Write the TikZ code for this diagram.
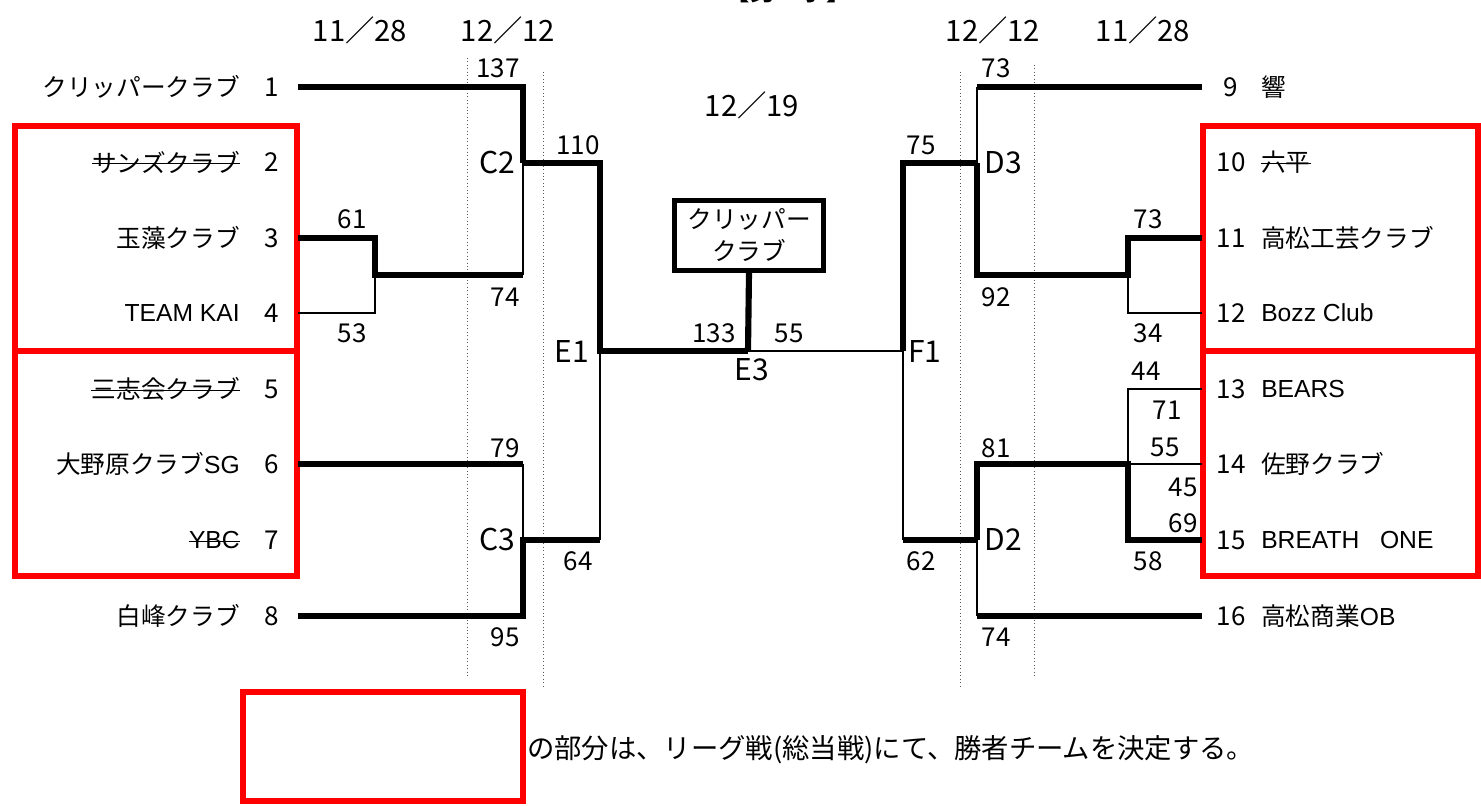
\documentclass[tikz,border=0pt]{standalone}
\usepackage{fontspec}
\setmainfont{Noto Sans CJK JP}
\newfontfamily\lat{Liberation Sans}
\begin{document}
\begin{tikzpicture}[x=0.75pt,y=-0.75pt,
  thk/.style={line width=4.6pt},
  thn/.style={line width=1.4pt},
  dotln/.style={line width=0.6pt,dotted,gray!70!black},
  redbox/.style={draw=red,line width=4.6pt},
  txt/.style={inner sep=0pt,font=\fontsize{18.5pt}{22pt}\selectfont},
  hdr/.style={inner sep=0pt,font=\fontsize{22pt}{24pt}\selectfont},
  num/.style={inner sep=0pt,font=\fontsize{19.5pt}{22pt}\selectfont},
  rnd/.style={inner sep=0pt,font=\fontsize{22.5pt}{24pt}\selectfont},
  strike/.style={line width=0.9pt}]
\useasboundingbox (0,0) rectangle (1481,806);
% title (cut off at top)
\node[txt,font=\fontsize{19pt}{22pt}\selectfont\bfseries] (title) at (788,-9) {【男　子】};
% headers
\node[hdr] (h1) at (360,30) {11／28};
\node[hdr] (h2) at (508,30) {12／12};
\node[hdr] (h3) at (993,30) {12／12};
\node[hdr] (h4) at (1143,30) {11／28};
\node[hdr] (h5) at (752,105) {12／19};
% dotted guide lines
\draw[dotln] (467,58) -- (467,678);
\draw[dotln] (543,72) -- (543,686);
\draw[dotln] (960,72) -- (960,686);
\draw[dotln] (1034,65) -- (1034,678);
% red boxes
\draw[redbox] (15,126) rectangle (297,351);
\draw[redbox] (15,351) rectangle (297,576);
\draw[redbox] (1203,126) rectangle (1478,351);
\draw[redbox] (1203,351) rectangle (1478,576);
\draw[redbox] (243,692) rectangle (523,801);
\node[inner sep=0pt,anchor=west,font=\fontsize{20.5pt}{24pt}\selectfont] (legend) at (527,750) {の部分は、リーグ戦(総当戦)にて、勝者チームを決定する。};
% left teams
\node[txt,anchor=east] (n1) at (240,87) {クリッパークラブ};
\node[txt,anchor=east] (n2) at (240,162) {サンズクラブ};
\node[txt,anchor=east] (n3) at (240,238) {玉藻クラブ};
\node[txt,anchor=east] (n4) at (240,313) {\lat TEAM KAI};
\node[txt,anchor=east] (n5) at (240,389) {三志会クラブ};
\node[txt,anchor=east] (n6) at (240,464) {大野原クラブ{\lat SG}};
\node[txt,anchor=east] (n7) at (240,540) {\lat YBC};
\node[txt,anchor=east] (n8) at (240,616) {白峰クラブ};
\foreach \i/\y in {1/87,2/162,3/238,4/313,5/389,6/464,7/540,8/616}
  \node[num] (k\i) at (272,\y) {\i};
\draw[strike] ([yshift=-1pt]n2.west) -- ([yshift=-1pt]n2.east);
\draw[strike] ([yshift=-1pt]n5.west) -- ([yshift=-1pt]n5.east);
\draw[strike] ([yshift=-1pt]n7.west) -- ([yshift=-1pt]n7.east);
% right teams
\foreach \i/\y in {9/87,10/162,11/238,12/313,13/389,14/464,15/540,16/616}
  \node[num] (k\i) at (1231,\y) {\i};
\node[txt,anchor=west] (n9) at (1261,87) {響};
\node[txt,anchor=west] (n10) at (1261,162) {六平};
\node[txt,anchor=west] (n11) at (1261,238) {高松工芸クラブ};
\node[txt,anchor=west] (n12) at (1261,313) {\lat Bozz Club};
\node[txt,anchor=west] (n13) at (1261,389) {\lat BEARS};
\node[txt,anchor=west] (n14) at (1261,464) {佐野クラブ};
\node[txt,anchor=west] (n15) at (1261,540) {\lat BREATH\ \ \ ONE};
\node[txt,anchor=west] (n16) at (1261,616) {高松商業{\lat OB}};
\draw[strike] ([yshift=-1pt]n10.west) -- ([yshift=-1pt]n10.east);
% coordinates
\coordinate (L1) at (298,87);  \coordinate (L3) at (298,238);
\coordinate (L4) at (298,313); \coordinate (L6) at (298,464);
\coordinate (L8) at (298,616);
\coordinate (R9) at (1202,87);   \coordinate (R11) at (1202,238);
\coordinate (R12) at (1202,313); \coordinate (R13) at (1202,389);
\coordinate (R14) at (1202,464); \coordinate (R15) at (1202,540);
\coordinate (R16) at (1202,616);
\coordinate (a34) at (375,275);
\coordinate (C2) at (523,163);  \coordinate (c2low) at (523,275);
\coordinate (C3) at (523,540);  \coordinate (c3up) at (523,464);
\coordinate (E1) at (600,351);  \coordinate (e1low) at (600,540);
\coordinate (E3) at (748,351);
\coordinate (F1) at (903,351);  \coordinate (f1low) at (903,540);
\coordinate (D3) at (977,163);  \coordinate (d3up) at (977,87);
\coordinate (D2) at (977,540);  \coordinate (d2low) at (977,616);
\coordinate (b1112) at (1128,275);
\coordinate (b14) at (1128,464);
% champion box
\node[draw,line width=3.8pt,minimum width=112pt,minimum height=52pt,inner sep=0pt,
  align=center,font=\fontsize{18.5pt}{24pt}\selectfont] (champ) at (749,235.5) {クリッパー\\クラブ};
% left bracket
\draw[thk] (L1) -| (C2);
\draw[thk] (C2) -| (E1) -- (E3);
\draw[thk] (E3) -- (champ.south);
\draw[thk] (L3) -| (a34) -- (c2low);
\draw[thn] (c2low) -- (C2);
\draw[thn] (L4) -| (a34);
\draw[thk] (L6) -- (c3up);
\draw[thn] (c3up) -- (C3);
\draw[thk] (L8) -| (C3) -- (e1low);
\draw[thn] (e1low) -- (E1);
% final
\draw[thn] (E3) -- (F1);
% right bracket
\draw[thk] (F1) |- (D3);
\draw[thn] (F1) -- (f1low);
\draw[thk] (f1low) -- (D2);
\draw[thk] (R9) -- (d3up);
\draw[thn] (d3up) -- (D3);
\draw[thk] (D3) |- (b1112) |- (R11);
\draw[thn] (b1112) |- (R12);
\draw[thk] (D2) |- (b14) |- (R15);
\draw[thn] (b14) -- (R14);
\draw[thn] (b14) |- (R13);
\draw[thn] (D2) -- (d2low);
\draw[thk] (d2low) -- (R16);
% round labels
\node[rnd] (lC2) at (497,163) {C2};
\node[rnd] (lC3) at (497,540) {C3};
\node[rnd] (lE1) at (572,352) {E1};
\node[rnd] (lE3) at (752,370) {E3};
\node[rnd] (lF1) at (925,352) {F1};
\node[rnd] (lD3) at (1003,163) {D3};
\node[rnd] (lD2) at (1003,540) {D2};
% scores
\foreach \nm/\x/\y/\s in {s1/498/68/137, s2/578/145/110, s3/352/219/61, s4/505/297/74,
  s5/352/333/53, s6/505/448/79, s7/578/561/64, s8/505/637/95, s9/714/333/133,
  s10/789/333/55, s11/921/145/75, s12/996/68/73, s13/996/297/92, s14/1148/219/73,
  s15/1148/333/34, s16/1146/371/44, s17/1167/410/71, s18/1165/447/55, s19/996/448/81,
  s20/1183/487/45, s21/1183/523/69, s22/1148/561/58, s23/921/561/62, s24/996/637/74}
  \node[num] (\nm) at (\x,\y) {\s};
\end{tikzpicture}
\end{document}
